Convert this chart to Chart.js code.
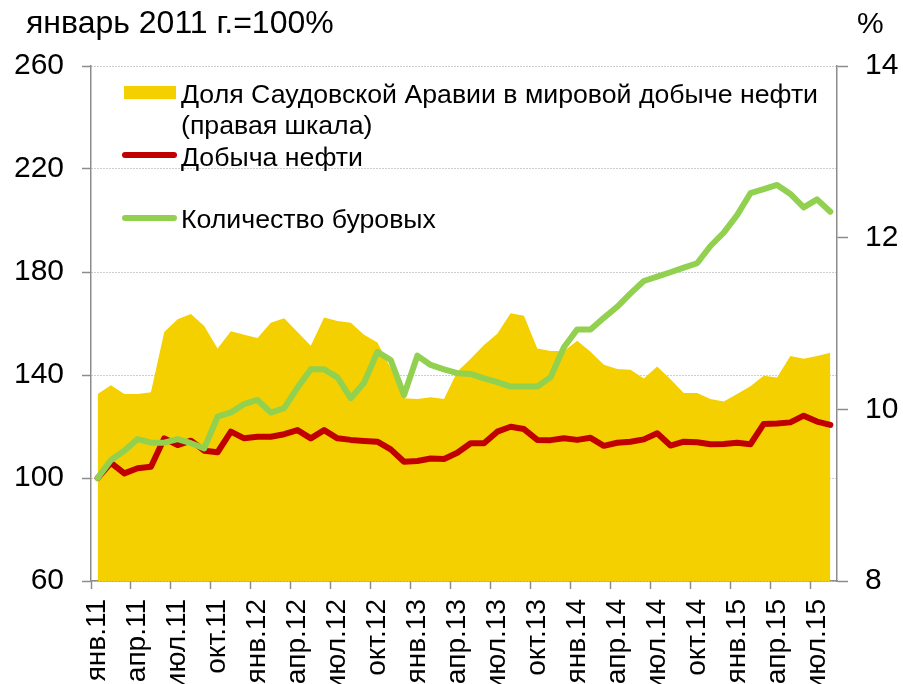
<!DOCTYPE html>
<html>
<head>
<meta charset="utf-8">
<script src="https://cdn.jsdelivr.net/npm/chart.js@4/dist/chart.umd.min.js"></script>
<style>
    body { margin: 0; background: #fff; }
    canvas { display: block; }
</style>
</head>
<body>
<canvas id="chart" width="903" height="684"></canvas>
<script>
// monthly labels, Jan 2011 - Aug 2015 (only every 3rd one is shown)
const months = [
    'янв.11', 'фев.11', 'мар.11', 'апр.11', 'май.11', 'июн.11', 'июл.11', 'авг.11', 'сен.11', 'окт.11', 'ноя.11', 'дек.11',
    'янв.12', 'фев.12', 'мар.12', 'апр.12', 'май.12', 'июн.12', 'июл.12', 'авг.12', 'сен.12', 'окт.12', 'ноя.12', 'дек.12',
    'янв.13', 'фев.13', 'мар.13', 'апр.13', 'май.13', 'июн.13', 'июл.13', 'авг.13', 'сен.13', 'окт.13', 'ноя.13', 'дек.13',
    'янв.14', 'фев.14', 'мар.14', 'апр.14', 'май.14', 'июн.14', 'июл.14', 'авг.14', 'сен.14', 'окт.14', 'ноя.14', 'дек.14',
    'янв.15', 'фев.15', 'мар.15', 'апр.15', 'май.15', 'июн.15', 'июл.15', 'авг.15'
];

// Saudi Arabia share of world oil output, % (right scale)
const saudiShare = [
    10.18, 10.28, 10.18, 10.18, 10.20, 10.90, 11.05, 11.11, 10.97, 10.71, 10.91, 10.87,
    10.83, 11.01, 11.06, 10.90, 10.74, 11.07, 11.03, 11.01, 10.87, 10.78, 10.48, 10.13,
    10.12, 10.14, 10.12, 10.44, 10.59, 10.75, 10.88, 11.12, 11.09, 10.71, 10.68, 10.68,
    10.80, 10.67, 10.52, 10.47, 10.46, 10.36, 10.50, 10.35, 10.19, 10.19, 10.12, 10.09,
    10.18, 10.27, 10.39, 10.37, 10.62, 10.59, 10.62, 10.66
];

// oil output, Jan 2011 = 100
const oilOutput = [
    100.0, 105.9, 101.8, 103.8, 104.4, 115.4, 112.8, 114.5, 110.6, 110.0, 118.0, 115.4,
    116.0, 116.0, 117.0, 118.6, 115.4, 118.6, 115.4, 114.8, 114.4, 114.1, 111.1, 106.3,
    106.6, 107.6, 107.4, 109.8, 113.5, 113.5, 118.0, 119.9, 119.0, 114.8, 114.7, 115.4,
    114.8, 115.6, 112.5, 113.7, 114.1, 115.0, 117.4, 112.6, 114.1, 113.9, 113.1, 113.2,
    113.7, 113.1, 121.0, 121.2, 121.6, 124.2, 121.9, 120.6
];

// rig count, Jan 2011 = 100
const rigCount = [
    100.0, 107.0, 110.6, 115.1, 113.7, 113.7, 115.1, 113.5, 111.5, 123.8, 125.5, 128.7,
    130.3, 125.4, 127.1, 135.1, 142.2, 142.2, 139.1, 131.0, 137.0, 149.0, 145.8, 132.2,
    147.5, 143.9, 142.2, 140.7, 140.4, 138.7, 137.2, 135.5, 135.5, 135.5, 139.1, 150.8,
    157.7, 157.7, 162.2, 166.5, 171.7, 176.5, 178.2, 179.9, 181.7, 183.4, 190.1, 195.3,
    202.1, 210.6, 212.2, 213.8, 210.3, 205.1, 208.2, 203.4
];

const leftTicks = [60, 100, 140, 180, 220, 260];
const rightTicks = [8, 10, 12, 14];

const FONT = '"Liberation Sans", Arial, sans-serif';
const AXIS_GREY = '#8c8c8c';
const YELLOW = '#F5D000';
const RED = '#C00000';
const GREEN = '#92D050';

// title, right-axis unit and the legend are painted by hand
const overlay = {
    id: 'overlay',
    afterDraw(chart) {
        const ctx = chart.ctx;
        ctx.save();
        ctx.fillStyle = '#000';
        ctx.textBaseline = 'alphabetic';
        ctx.font = '32px ' + FONT;
        ctx.fillText('январь 2011 г.=100%', 26, 33);
        ctx.font = '30px ' + FONT;
        ctx.fillText('%', 857, 33);

        const ds = chart.data.datasets;
        ctx.font = '26.7px ' + FONT;

        // area swatch
        ctx.fillStyle = YELLOW;
        ctx.fillRect(124, 86, 52, 13);
        ctx.fillStyle = '#000';
        ds[0].label.forEach((line, i) => ctx.fillText(line, 181, 103 + i * 31));

        // line swatches
        [[ds[1], 155, 166], [ds[2], 218, 228]].forEach(([d, ly, ty]) => {
            ctx.strokeStyle = d.borderColor;
            ctx.lineWidth = 6;
            ctx.lineCap = 'round';
            ctx.beginPath();
            ctx.moveTo(125, ly);
            ctx.lineTo(174, ly);
            ctx.stroke();
            ctx.fillText(d.label, 181, ty);
        });
        ctx.restore();
    }
};

new Chart(document.getElementById('chart'), {
    type: 'line',
    data: {
        labels: months,
        datasets: [
            {
                label: ['Доля Саудовской Аравии в мировой добыче нефти', '(правая шкала)'],
                data: saudiShare,
                yAxisID: 'y1',
                backgroundColor: YELLOW,
                borderWidth: 0,
                fill: 'start',
                pointRadius: 0,
                tension: 0,
                order: 3
            },
            {
                label: 'Добыча нефти',
                data: oilOutput,
                yAxisID: 'y',
                borderColor: RED,
                borderWidth: 6,
                borderJoinStyle: 'round',
                borderCapStyle: 'round',
                pointRadius: 0,
                tension: 0,
                fill: false,
                order: 2
            },
            {
                label: 'Количество буровых',
                data: rigCount,
                yAxisID: 'y',
                borderColor: GREEN,
                borderWidth: 6,
                borderJoinStyle: 'round',
                borderCapStyle: 'round',
                pointRadius: 0,
                tension: 0,
                fill: false,
                order: 1
            }
        ]
    },
    options: {
        responsive: false,
        animation: false,
        devicePixelRatio: 1,
        layout: { padding: { top: 66, left: 0, right: 0, bottom: 0 } },
        plugins: {
            legend: { display: false },
            tooltip: { enabled: false }
        },
        scales: {
            x: {
                offset: true,
                afterFit: s => { s.height = 103; },
                grid: {
                    offset: true,
                    drawOnChartArea: false,
                    tickLength: 8,
                    tickWidth: 1.5,
                    tickColor: c => (c.index % 3 === 0 ? AXIS_GREY : 'rgba(0,0,0,0)')
                },
                border: { color: AXIS_GREY, width: 1.5 },
                ticks: {
                    autoSkip: false,
                    minRotation: 90,
                    maxRotation: 90,
                    padding: 10,
                    color: '#000',
                    font: { family: FONT, size: 28 },
                    callback: (v, i) => (i % 3 === 0 ? months[i] : '')
                }
            },
            y: {
                position: 'left',
                min: 60,
                max: 260,
                afterBuildTicks: s => { s.ticks = leftTicks.map(v => ({ value: v })); },
                afterFit: s => { s.width = 91; },
                grid: {
                    color: '#9a9a9a',
                    lineWidth: 1,
                    tickLength: 9,
                    tickWidth: 1.5,
                    tickColor: AXIS_GREY
                },
                border: { color: AXIS_GREY, width: 1.5, dash: [1, 2] },
                ticks: {
                    padding: 18,
                    color: '#000',
                    font: { family: FONT, size: 30 }
                }
            },
            y1: {
                position: 'right',
                min: 8,
                max: 14,
                afterBuildTicks: s => { s.ticks = rightTicks.map(v => ({ value: v })); },
                afterFit: s => { s.width = 66; },
                grid: {
                    drawOnChartArea: false,
                    tickLength: 11,
                    tickWidth: 1.5,
                    tickColor: AXIS_GREY
                },
                border: { color: AXIS_GREY, width: 1.5 },
                ticks: {
                    padding: 17,
                    color: '#000',
                    font: { family: FONT, size: 30 }
                }
            }
        }
    },
    plugins: [overlay]
});
</script>
</body>
</html>
